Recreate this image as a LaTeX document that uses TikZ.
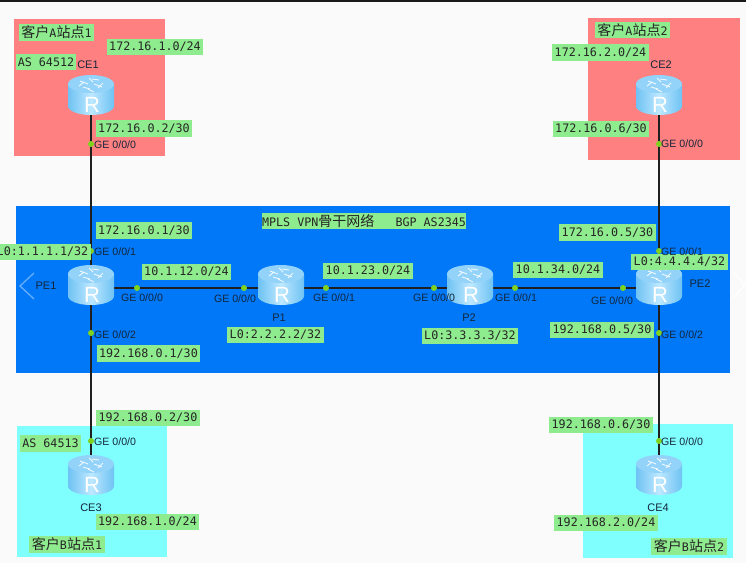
\documentclass[tikz,border=0pt]{standalone}
\usepackage{fontspec}
\setmainfont{Liberation Sans}
\setmonofont{DejaVu Sans Mono}
\newfontfamily\cjkfont{Noto Sans CJK SC}
\usetikzlibrary{backgrounds}
\definecolor{pagebg}{HTML}{FAFAFA}
\definecolor{sitered}{HTML}{FF8080}
\definecolor{sitecyan}{HTML}{80FFFF}
\definecolor{coreblue}{HTML}{0078F8}
\definecolor{labgreen}{HTML}{8EEB8E}
\definecolor{portgreen}{HTML}{7FD320}
\definecolor{inktext}{HTML}{14263A}
\definecolor{rleft}{HTML}{6FC2F3}
\definecolor{rmid}{HTML}{BDE8FF}
\definecolor{rtop}{HTML}{93D3FA}
\newcommand{\cj}[1]{{\cjkfont\fontsize{14}{15}\selectfont #1}}
\tikzset{
  link/.style={draw=black!88,line width=1.9pt},
  site/.style={draw=none},
  routerbox/.style={inner sep=0pt,minimum width=46pt,minimum height=40pt},
  lab/.style={fill=labgreen,inner sep=0pt,text=black!85,font=\ttfamily\fontsize{11.7}{13}\selectfont},
  devname/.style={inner sep=0pt,text=inktext,font=\fontsize{11}{12}\selectfont},
  ifname/.style={inner sep=0pt,text=inktext,anchor=west,font=\fontsize{10.6}{12}\selectfont},
  ifnamec/.style={inner sep=0pt,text=inktext,font=\fontsize{10.6}{12}\selectfont},
  portdot/.style={circle,fill=portgreen,inner sep=0pt,minimum size=6pt},
  routerpic/.pic={
    \path[left color=rleft,right color=rleft,middle color=rmid]
      (-23,-14) -- (-23,8) .. controls (-23,13) and (-13,17) .. (0,17)
      .. controls (13,17) and (23,13) .. (23,8) -- (23,-14) -- cycle;
    \fill[rtop] (0,-14) ellipse [x radius=23pt,y radius=9pt];
    \draw[white,line width=0.9pt,opacity=.85]
      (-11,-17) -- (-3,-14) (-8,-11) -- (-1,-9)
      (11,-11) -- (3,-14) (8,-18) -- (1,-19)
      (-2,-20) -- (2,-16) (-3,-9) -- (3,-6) (-12,-12) -- (-7,-16) (12,-15) -- (7,-10);
    \node[inner sep=0pt,text=white,font=\fontsize{22}{22}\selectfont] at (1,7) {R};
  }
}
% name, x1, y1, x2, y2, text
\newcommand{\lab}[6]{%
  \pgfmathsetmacro{\lw}{#4-(#2)}\pgfmathsetmacro{\lh}{#5-(#3)}%
  \pgfmathsetmacro{\lx}{(#2+#4)/2}\pgfmathsetmacro{\ly}{(#3+#5)/2}%
  \node[lab,minimum width=\lw pt,minimum height=\lh pt] (#1) at (\lx,\ly) {#6};}
\begin{document}
\begin{tikzpicture}[x=1pt,y=-1pt]
\useasboundingbox (0,0) rectangle (746,563);
% routers (named first, artwork drawn on them)
\node[routerbox] (CE1) at (91,98) {};
\node[routerbox] (CE2) at (659,98) {};
\node[routerbox] (PE1) at (91,288) {};
\node[routerbox] (P1) at (281,288) {};
\node[routerbox] (P2) at (470,288) {};
\node[routerbox] (PE2) at (659,288) {};
\node[routerbox] (CE3) at (91,478) {};
\node[routerbox] (CE4) at (659,478) {};
\begin{scope}[on background layer]
  \fill[pagebg] (0,0) rectangle (746,563);
  \fill[black!90] (0,0) rectangle (746,2);
  \fill[sitered,site] (14,19) rectangle (165,156);
  \fill[sitered,site] (588,18) rectangle (740,160);
  \fill[coreblue,site] (16,206) rectangle (730,373);
  \fill[sitecyan,site] (17,426) rectangle (167,557);
  \fill[sitecyan,site] (583,424) rectangle (733,558);
  \draw[link] (CE1.center) -- (PE1.center);
  \draw[link] (PE1.center) -- (CE3.center);
  \draw[link] (CE2.center) -- (PE2.center);
  \draw[link] (PE2.center) -- (CE4.center);
  \draw[link] (PE1.center) -- (P1.center);
  \draw[link] (P1.center) -- (P2.center);
  \draw[link] (P2.center) -- (PE2.center);
\end{scope}
\pic at (CE1) {routerpic};
\pic at (CE2) {routerpic};
\pic at (PE1) {routerpic};
\pic at (P1) {routerpic};
\pic at (P2) {routerpic};
\pic at (PE2) {routerpic};
\pic at (CE3) {routerpic};
\pic at (CE4) {routerpic};
% page-turn chevrons
\coordinate (cl1) at (34,273); \coordinate (cl2) at (20,286); \coordinate (cl3) at (34,299);
\draw[white,opacity=.4,line width=1.3pt] (cl1) -- (cl2) -- (cl3);
\coordinate (cr1) at (733,272); \coordinate (cr2) at (745,285); \coordinate (cr3) at (733,298);
\draw[white,line width=1.3pt] (cr1) -- (cr2) -- (cr3);
% ports
\node[portdot] (p1) at (91,144) {};
\node[portdot] (p2) at (91,251) {};
\node[portdot] (p3) at (91,333) {};
\node[portdot] (p4) at (91,441) {};
\node[portdot] (p5) at (659,144) {};
\node[portdot] (p6) at (659,251) {};
\node[portdot] (p7) at (659,333) {};
\node[portdot] (p8) at (659,441) {};
\node[portdot] (p9) at (137,288) {};
\node[portdot] (p10) at (244,288) {};
\node[portdot] (p11) at (326,288) {};
\node[portdot] (p12) at (434,288) {};
\node[portdot] (p13) at (515,288) {};
\node[portdot] (p14) at (623,288) {};
% interface names
\node[ifname] (i1) at (94,145) {GE 0/0/0};
\node[ifname] (i2) at (94,252) {GE 0/0/1};
\node[ifname] (i3) at (94,335) {GE 0/0/2};
\node[ifname] (i4) at (94,442) {GE 0/0/0};
\node[ifname] (i5) at (661,144) {GE 0/0/0};
\node[ifname] (i6) at (661,442) {GE 0/0/0};
\node[ifname] (i7) at (661,335) {GE 0/0/2};
\node[ifnamec] (i9) at (142,298) {GE 0/0/0};
\node[ifnamec] (i10) at (235,299) {GE 0/0/0};
\node[ifnamec] (i11) at (334,298) {GE 0/0/1};
\node[ifnamec] (i12) at (434,298) {GE 0/0/0};
\node[ifnamec] (i13) at (516,298) {GE 0/0/1};
\node[ifnamec] (i14) at (612,301) {GE 0/0/0};
% green labels
\lab{l1}{19}{24}{94}{41}{\cj{客户}A\cj{站点}1}
\lab{l2}{107}{39}{203}{55}{172.16.1.0/24}
\lab{l3}{16}{54}{76}{70}{AS 64512}
\lab{l4}{96}{120}{192}{137}{172.16.0.2/30}
\lab{l5}{595}{22}{670}{38}{\cj{客户}A\cj{站点}2}
\lab{l6}{552}{44}{649}{61}{172.16.2.0/24}
\lab{l7}{553}{121}{649}{137}{172.16.0.6/30}
\lab{l8}{262}{213}{466}{229}{MPLS VPN\cj{骨干网络}\ \ \ BGP AS2345}
\lab{l9}{96}{222}{192}{239}{172.16.0.1/30}
\lab{l10}{-6}{244}{91}{260}{L0:1.1.1.1/32}
\lab{l11}{142}{264}{231}{280}{10.1.12.0/24}
\lab{l12}{323}{263}{413}{279}{10.1.23.0/24}
\lab{l13}{513}{262}{603}{278}{10.1.34.0/24}
\lab{l14}{559}{224}{656}{241}{172.16.0.5/30}
\lab{l15}{631}{254}{728}{270}{L0:4.4.4.4/32}
\lab{l16}{97}{345}{200}{362}{192.168.0.1/30}
\lab{l17}{227}{327}{324}{343}{L0:2.2.2.2/32}
\lab{l18}{422}{328}{518}{344}{L0:3.3.3.3/32}
\lab{l19}{550}{322}{654}{338}{192.168.0.5/30}
\lab{l20}{96}{410}{200}{426}{192.168.0.2/30}
\lab{l21}{20}{435}{81}{452}{AS 64513}
\lab{l22}{96}{514}{199}{530}{192.168.1.0/24}
\lab{l23}{29}{536}{105}{553}{\cj{客户}B\cj{站点}1}
\lab{l24}{549}{417}{653}{433}{192.168.0.6/30}
\lab{l25}{554}{515}{658}{531}{192.168.2.0/24}
\lab{l26}{651}{538}{727}{555}{\cj{客户}B\cj{站点}2}
% GE 0/0/1 of PE2 sits over the label edge
\node[ifname] (i8) at (661,252) {GE 0/0/1};
% device names
\node[devname] (n1) at (88,65) {CE1};
\node[devname] (n2) at (661,65) {CE2};
\node[devname] (n3) at (46,286) {PE1};
\node[devname] (n4) at (700,284) {PE2};
\node[devname] (n5) at (279,318) {P1};
\node[devname] (n6) at (469,318) {P2};
\node[devname] (n7) at (91,508) {CE3};
\node[devname] (n8) at (658,508) {CE4};
\end{tikzpicture}
\end{document}
